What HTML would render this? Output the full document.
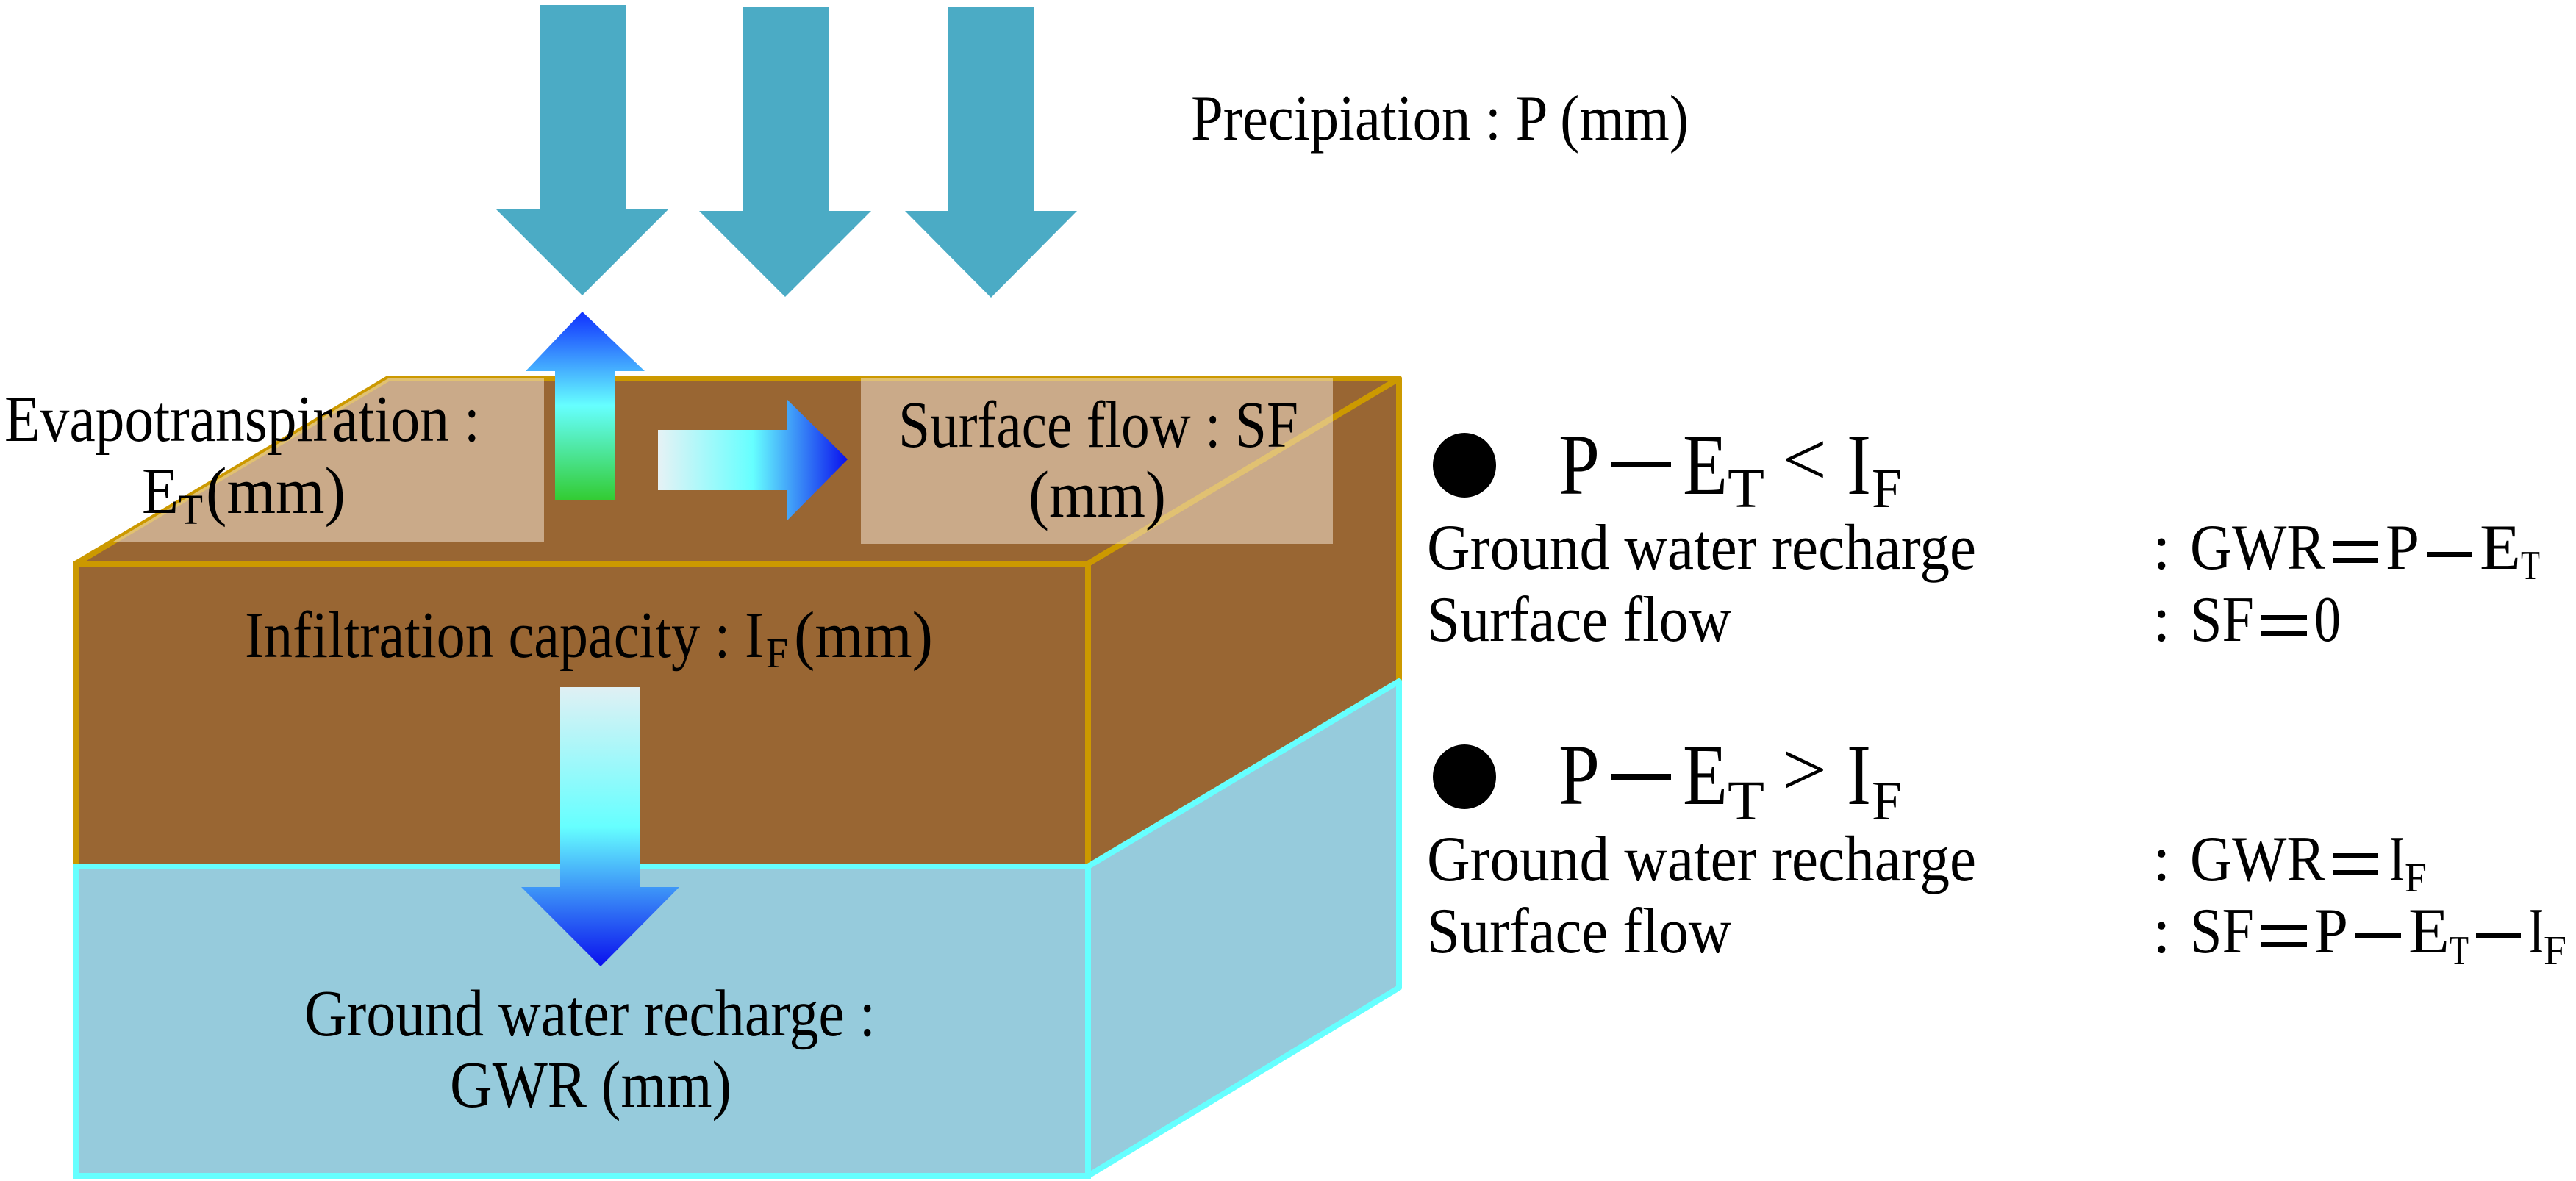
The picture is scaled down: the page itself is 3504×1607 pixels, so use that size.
<!DOCTYPE html>
<html><head><meta charset="utf-8"><style>
html,body{margin:0;padding:0;background:#fff;}
svg{display:block;}
svg text{font-family:"Liberation Serif","Times New Roman","DejaVu Serif",serif;fill:#000;}
</style></head><body>
<svg width="3504" height="1607" viewBox="0 0 3504 1607" xmlns="http://www.w3.org/2000/svg" font-family="Liberation Serif, Times New Roman, DejaVu Serif, serif">
<defs>
<linearGradient id="gup" x1="0" y1="0" x2="0" y2="1">
<stop offset="0" stop-color="#1030ff"/><stop offset="0.5" stop-color="#66ffff"/><stop offset="1" stop-color="#33cc33"/>
</linearGradient>
<linearGradient id="gright" x1="0" y1="0" x2="1" y2="0">
<stop offset="0" stop-color="#e6f2f5"/><stop offset="0.5" stop-color="#66ffff"/><stop offset="1" stop-color="#0a10ee"/>
</linearGradient>
<linearGradient id="gdown" x1="0" y1="0" x2="0" y2="1">
<stop offset="0" stop-color="#e0f0f4"/><stop offset="0.5" stop-color="#66ffff"/><stop offset="1" stop-color="#0a10ee"/>
</linearGradient>
</defs>

<g fill="#4babc5">
<polygon points="734,7 852,7 852,285 909,285 792,402 675,285 734,285"/>
<polygon points="1011,9 1128,9 1128,287 1185,287 1068,404 951,287 1011,287"/>
<polygon points="1290,9 1407,9 1407,287 1465,287 1348,405 1231,287 1290,287"/>
</g>

<polygon points="528,515 1903,515 1480,767 103,767" fill="#996633" stroke="#cc9900" stroke-width="8" stroke-linejoin="round"/>
<polygon points="1480,767 1903,515 1903,927 1480,1179" fill="#996633" stroke="#cc9900" stroke-width="8" stroke-linejoin="round"/>
<rect x="103" y="767" width="1377" height="412" fill="#996633" stroke="#cc9900" stroke-width="8"/>
<polygon points="1480,1179 1903,927 1903,1344 1480,1600" fill="#96cbdc" stroke="#66ffff" stroke-width="8" stroke-linejoin="round"/>
<rect x="103" y="1179" width="1377" height="421" fill="#96cbdc" stroke="#66ffff" stroke-width="8"/>

<polygon points="528,515 740,515 740,737 154,737" fill="#f3e2cf" opacity="0.55"/>
<rect x="1171" y="515" width="642" height="225" fill="#f3e2cf" opacity="0.55"/>

<polygon points="792,424 877,505 837,505 837,680 755,680 755,505 715,505" fill="url(#gup)"/>
<polygon points="895,585 1070,585 1070,543 1153,625 1070,709 1070,667 895,667" fill="url(#gright)"/>
<polygon points="762,935 871,935 871,1207 924,1207 817,1315 709,1207 762,1207" fill="url(#gdown)"/>

<text x="1620" y="190" font-size="88" textLength="677" lengthAdjust="spacingAndGlyphs">Precipiation : P (mm)</text>
<text x="6" y="600" font-size="90" textLength="647" lengthAdjust="spacingAndGlyphs">Evapotranspiration :</text>
<text x="193" y="698" font-size="90" textLength="50" lengthAdjust="spacingAndGlyphs">E</text>
<text x="243" y="713" font-size="58" textLength="33" lengthAdjust="spacingAndGlyphs">T</text>
<text x="280" y="698" font-size="90" textLength="190" lengthAdjust="spacingAndGlyphs">(mm)</text>
<text x="1222" y="608" font-size="90" textLength="544" lengthAdjust="spacingAndGlyphs">Surface flow : SF</text>
<text x="1399" y="703" font-size="90" textLength="187" lengthAdjust="spacingAndGlyphs">(mm)</text>
<text x="333" y="894" font-size="90" textLength="706" lengthAdjust="spacingAndGlyphs">Infiltration capacity : I</text>
<text x="1042" y="908" font-size="58" textLength="30" lengthAdjust="spacingAndGlyphs">F</text>
<text x="1080" y="894" font-size="90" textLength="189" lengthAdjust="spacingAndGlyphs">(mm)</text>
<text x="414" y="1409" font-size="90" textLength="777" lengthAdjust="spacingAndGlyphs">Ground water recharge :</text>
<text x="612" y="1506" font-size="90" textLength="383" lengthAdjust="spacingAndGlyphs">GWR (mm)</text>

<ellipse cx="1992" cy="633" rx="43" ry="44" fill="#000"/>
<text x="2120" y="672" font-size="118" textLength="56" lengthAdjust="spacingAndGlyphs">P</text>
<rect x="2192" y="628" width="81" height="8" fill="#000"/>
<text x="2289" y="672" font-size="118" textLength="61" lengthAdjust="spacingAndGlyphs">E</text>
<text x="2350" y="690" font-size="76" textLength="50" lengthAdjust="spacingAndGlyphs">T</text>
<text x="2424" y="660" font-size="104" textLength="61" lengthAdjust="spacingAndGlyphs">&lt;</text>
<text x="2512" y="672" font-size="118" textLength="33" lengthAdjust="spacingAndGlyphs">I</text>
<text x="2546" y="690" font-size="76" textLength="41" lengthAdjust="spacingAndGlyphs">F</text>

<text x="1941" y="774" font-size="88" textLength="747" lengthAdjust="spacingAndGlyphs">Ground water recharge</text>
<text x="2928" y="774" font-size="88">:</text>
<text x="2979" y="774" font-size="88" textLength="184" lengthAdjust="spacingAndGlyphs">GWR</text>
<rect x="3174" y="736" width="61" height="7" fill="#000"/><rect x="3174" y="759" width="61" height="7" fill="#000"/>
<text x="3245" y="774" font-size="88" textLength="46" lengthAdjust="spacingAndGlyphs">P</text>
<rect x="3301" y="751" width="62" height="7" fill="#000"/>
<text x="3373" y="774" font-size="88" textLength="56" lengthAdjust="spacingAndGlyphs">E</text>
<text x="3429" y="788" font-size="56" textLength="26" lengthAdjust="spacingAndGlyphs">T</text>

<text x="1941" y="872" font-size="88" textLength="414" lengthAdjust="spacingAndGlyphs">Surface flow</text>
<text x="2928" y="872" font-size="88">:</text>
<text x="2979" y="872" font-size="88" textLength="87" lengthAdjust="spacingAndGlyphs">SF</text>
<rect x="3076" y="837" width="62" height="7" fill="#000"/><rect x="3076" y="858" width="62" height="7" fill="#000"/>
<text x="3148" y="872" font-size="88" textLength="36" lengthAdjust="spacingAndGlyphs">0</text>

<ellipse cx="1992" cy="1057" rx="43" ry="44" fill="#000"/>
<text x="2120" y="1094" font-size="118" textLength="56" lengthAdjust="spacingAndGlyphs">P</text>
<rect x="2192" y="1053" width="81" height="8" fill="#000"/>
<text x="2289" y="1094" font-size="118" textLength="61" lengthAdjust="spacingAndGlyphs">E</text>
<text x="2350" y="1115" font-size="76" textLength="50" lengthAdjust="spacingAndGlyphs">T</text>
<text x="2424" y="1082" font-size="104" textLength="61" lengthAdjust="spacingAndGlyphs">&gt;</text>
<text x="2512" y="1094" font-size="118" textLength="33" lengthAdjust="spacingAndGlyphs">I</text>
<text x="2546" y="1115" font-size="76" textLength="41" lengthAdjust="spacingAndGlyphs">F</text>

<text x="1941" y="1198" font-size="88" textLength="747" lengthAdjust="spacingAndGlyphs">Ground water recharge</text>
<text x="2928" y="1198" font-size="88">:</text>
<text x="2979" y="1198" font-size="88" textLength="184" lengthAdjust="spacingAndGlyphs">GWR</text>
<rect x="3174" y="1161" width="61" height="7" fill="#000"/><rect x="3174" y="1184" width="61" height="7" fill="#000"/>
<text x="3250" y="1198" font-size="88" textLength="21" lengthAdjust="spacingAndGlyphs">I</text>
<text x="3271" y="1213" font-size="56" textLength="30" lengthAdjust="spacingAndGlyphs">F</text>

<text x="1941" y="1296" font-size="88" textLength="414" lengthAdjust="spacingAndGlyphs">Surface flow</text>
<text x="2928" y="1296" font-size="88">:</text>
<text x="2979" y="1296" font-size="88" textLength="87" lengthAdjust="spacingAndGlyphs">SF</text>
<rect x="3076" y="1259" width="62" height="7" fill="#000"/><rect x="3076" y="1282" width="62" height="7" fill="#000"/>
<text x="3148" y="1296" font-size="88" textLength="46" lengthAdjust="spacingAndGlyphs">P</text>
<rect x="3204" y="1270" width="62" height="7" fill="#000"/>
<text x="3276" y="1296" font-size="88" textLength="56" lengthAdjust="spacingAndGlyphs">E</text>
<text x="3332" y="1312" font-size="56" textLength="26" lengthAdjust="spacingAndGlyphs">T</text>
<rect x="3368" y="1270" width="61" height="7" fill="#000"/>
<text x="3440" y="1296" font-size="88" textLength="20" lengthAdjust="spacingAndGlyphs">I</text>
<text x="3460" y="1312" font-size="56" textLength="31" lengthAdjust="spacingAndGlyphs">F</text>
</svg>
</body></html>
